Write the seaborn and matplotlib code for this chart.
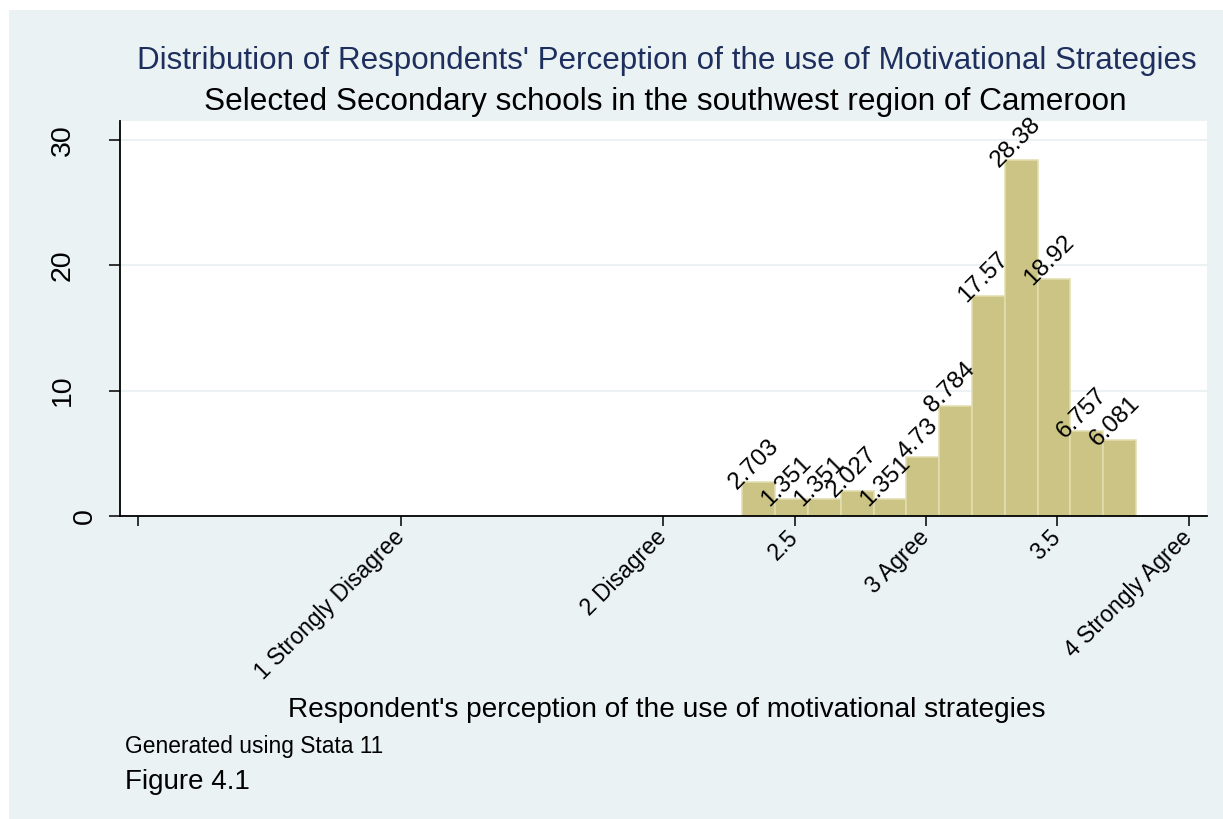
import matplotlib
matplotlib.use("Agg")
import matplotlib.pyplot as plt
import matplotlib.transforms as mtransforms
from matplotlib.patches import Rectangle
import seaborn as sns

# ---- data ----
bin_edges = [2.3, 2.425, 2.55, 2.675, 2.8, 2.925, 3.05, 3.175, 3.3, 3.425, 3.55, 3.675, 3.8]
bin_mids = [2.3625, 2.4875, 2.6125, 2.7375, 2.8625, 2.9875, 3.1125, 3.2375,
            3.3625, 3.4875, 3.6125, 3.7375]
percent = [2.703, 1.351, 1.351, 2.027, 1.351, 4.73, 8.784, 17.57, 28.38, 18.92, 6.757, 6.081]
xtick_pos = [0, 1, 2, 2.5, 3, 3.5, 4]
xtick_labels = ['', '1 Strongly Disagree', '2 Disagree', '2.5', '3 Agree', '3.5', '4 Strongly Agree']
ytick_pos = [0, 10, 20, 30]
ytick_labels = ['0', '10', '20', '30']

title1 = "Distribution of Respondents' Perception of the use of Motivational Strategies"
title2 = "Selected Secondary schools in the southwest region of Cameroon"
xlabel = "Respondent's perception of the use of motivational strategies"
note = "Generated using Stata 11"
caption = "Figure 4.1"

# ---- style ----
sns.set_theme(style='white')
plt.rcParams['font.family'] = ['Liberation Sans', 'DejaVu Sans']

BG = '#EAF2F3'
BAR = '#CCC484'
BAR_EDGE = '#E2DEB0'
NAVY = '#1E2F5E'

W, H = 1223, 819
fig = plt.figure(figsize=(W / 100, H / 100), dpi=100)
fig.patch.set_facecolor('white')
fig.add_artist(Rectangle((9 / W, 0), 1, 1 - 10 / H, transform=fig.transFigure,
                         facecolor=BG, edgecolor='none', zorder=-10))

ax = fig.add_axes([120 / W, 1 - 516 / H, (1207 - 120) / W, (516 - 121) / H])
ax.set_facecolor('white')

sns.histplot(x=bin_mids, weights=percent, bins=bin_edges, stat='count',
             color=BAR, edgecolor=BAR_EDGE, linewidth=1.1, alpha=1, ax=ax)

for patch, v in zip(ax.patches, percent):
    ax.annotate(f"{v:.4g}",
                xy=(patch.get_x() + patch.get_width() / 2, patch.get_height()),
                xytext=(-3.6, 13), textcoords='offset points',
                ha='center', va='center', rotation=45, fontsize=17.5, color='black')

ax.set_xlim(-0.07, 4.07)
ax.set_ylim(0, 31.5)
ax.set_axisbelow(True)
ax.yaxis.grid(True, color=BG, linewidth=1.5)
ax.xaxis.grid(False)
ax.set_xlabel('')
ax.set_ylabel('')

for s in ['top', 'right']:
    ax.spines[s].set_visible(False)
for s in ['left', 'bottom']:
    ax.spines[s].set_color('black')
    ax.spines[s].set_linewidth(1.3)

ax.set_yticks(ytick_pos)
ax.set_yticklabels(ytick_labels)
ax.tick_params(axis='y', left=True, length=8, width=1.1, color='black', labelcolor='black',
               labelsize=20.5, labelrotation=90, pad=24)
for lbl in ax.get_yticklabels():
    lbl.set_va('center')

ax.set_xticks(xtick_pos)
ax.set_xticklabels(xtick_labels, rotation=45, ha='right', va='center',
                   rotation_mode='anchor', fontsize=16.5)
ax.tick_params(axis='x', bottom=True, length=7, width=1.1, color='black', labelcolor='black', pad=6)

# Stata shifts the single-character "0" label closer to the axis
t0 = ax.yaxis.get_major_ticks()[0].label1
t0.set_transform(t0.get_transform() + mtransforms.ScaledTranslation(0.22, 0, fig.dpi_scale_trans))

fig.text(667 / W, 1 - 69 / H, title1, ha='center', va='baseline', color=NAVY, fontsize=22.6)
fig.text(665 / W, 1 - 110 / H, title2, ha='center', va='baseline', color='black', fontsize=22.7)
fig.text(667 / W, 1 - 717 / H, xlabel, ha='center', va='baseline', color='black', fontsize=20.2)
fig.text(125 / W, 1 - 753 / H, note, ha='left', va='baseline', color='black', fontsize=16.4)
fig.text(125 / W, 1 - 789 / H, caption, ha='left', va='baseline', color='black', fontsize=20)

fig.savefig('out.png', dpi=100)
